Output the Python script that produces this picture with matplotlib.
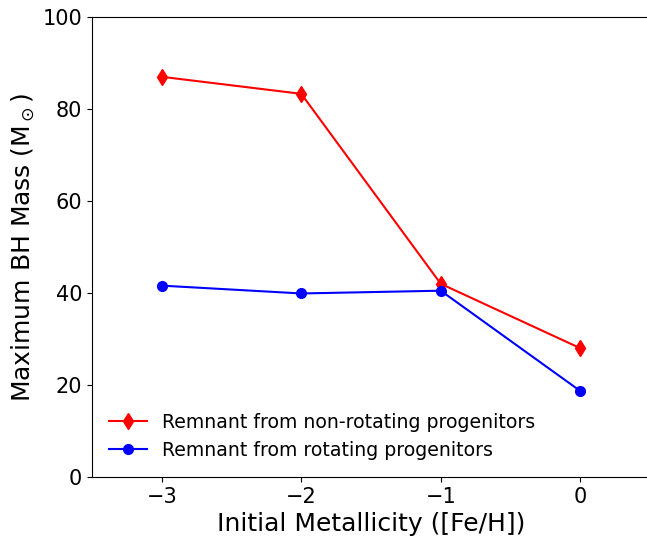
import matplotlib
matplotlib.use("Agg")
import matplotlib.pyplot as plt

# Data
feh = [-3, -2, -1, 0]
mass_nonrot = [87.0, 83.3, 42.0, 28.0]
mass_rot = [41.6, 39.9, 40.5, 18.7]
xticks = [-3, -2, -1, 0]
yticks = [0, 20, 40, 60, 80, 100]

fig = plt.figure(figsize=(6.47, 5.4), dpi=100)
ax = fig.add_axes([92 / 647, 1 - 477 / 540, (650 - 92) / 647, (477 - 17) / 540])

ax.plot(feh, mass_nonrot, marker='d', markersize=8, linestyle='-', color='red',
        label="Remnant from non-rotating progenitors")
ax.plot(feh, mass_rot, marker='o', markersize=7, linestyle='-', color='blue',
        label="Remnant from rotating progenitors")

ax.set_xlim(-3.5, 0.5)
ax.set_ylim(0, 100)
ax.set_xticks(xticks)
ax.set_xticklabels(["\u22123", "\u22122", "\u22121", "0"])
ax.set_yticks(yticks)
ax.tick_params(labelsize=15)
ax.set_xlabel("Initial Metallicity ([Fe/H])", fontsize=18)
ax.set_ylabel(r"Maximum BH Mass (M$_\odot$)", fontsize=18)
ax.legend(loc='lower left', fontsize=13.55, frameon=False, borderaxespad=0.5)

fig.savefig("out.png", dpi=100)
